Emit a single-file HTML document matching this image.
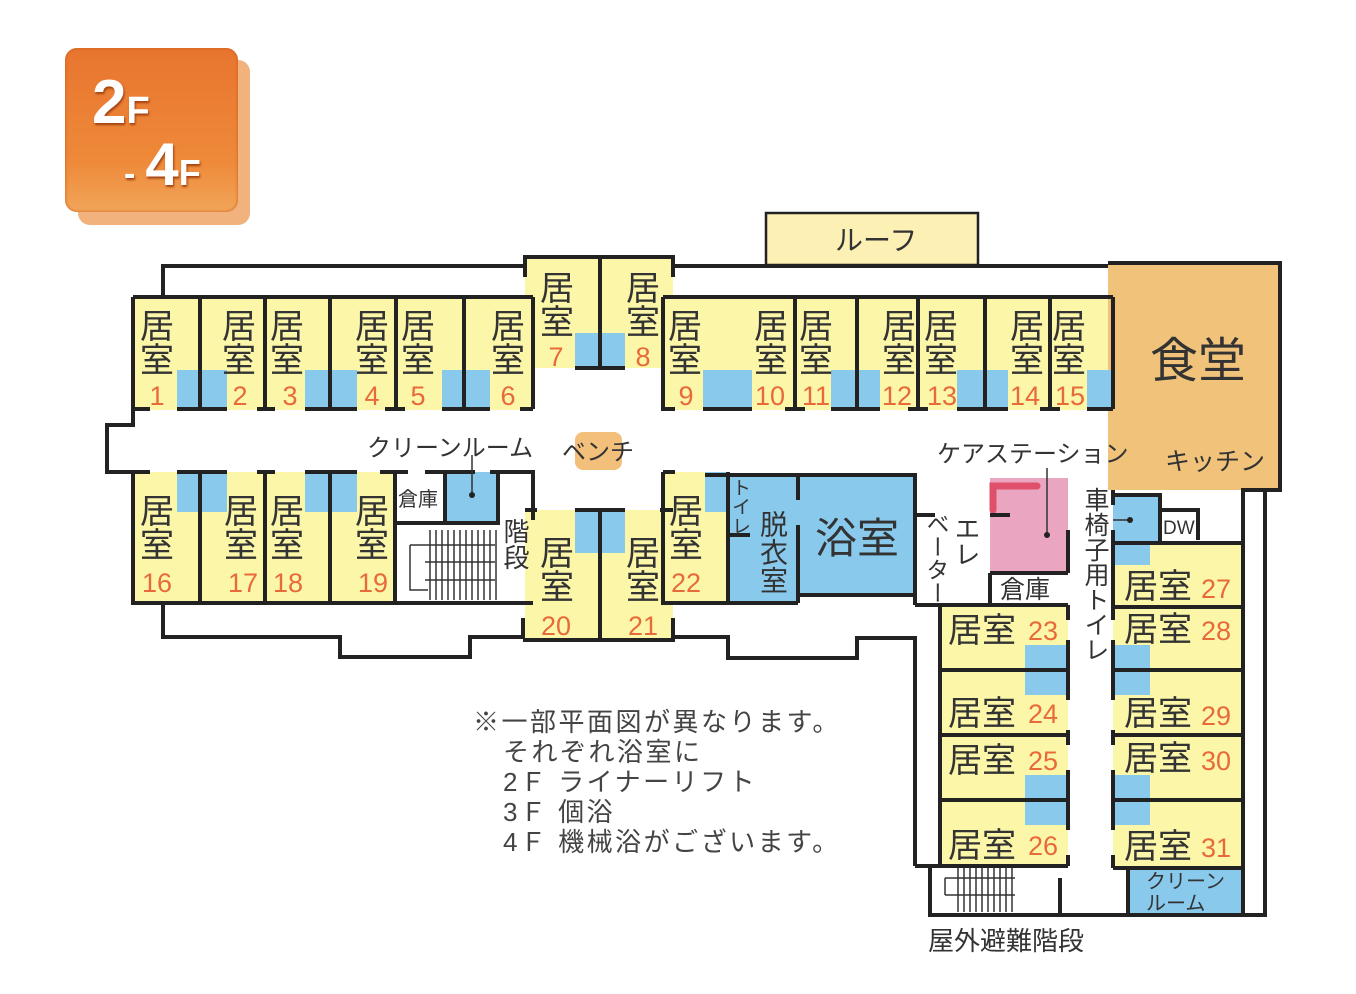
<!DOCTYPE html>
<html><head><meta charset="utf-8"><style>
html,body{margin:0;padding:0;background:#fff;width:1356px;height:994px;overflow:hidden}
body{position:relative;font-family:"Liberation Sans","Noto Sans CJK JP",sans-serif;color:#333}
.v{position:absolute;writing-mode:vertical-rl;line-height:1;color:#333;letter-spacing:0}
.badge{position:absolute;border-radius:12px}
</style></head><body>
<div class="badge" style="left:78px;top:60px;width:172px;height:165px;background:#eea566;opacity:.85"></div>
<div class="badge" style="left:65px;top:48px;width:173px;height:164px;background:linear-gradient(#e8752e,#ee8a3a 70%,#f2a55a);box-shadow:0 0 3px #c85a1a inset"></div>
<div style="position:absolute;left:92px;top:72px;color:#fff;font-weight:bold;font-size:62px;line-height:1;text-shadow:1px 2px 2px #a04010">2<span style="font-size:38px">F</span></div>
<div style="position:absolute;left:124px;top:135px;color:#fff;font-weight:bold;font-size:60px;line-height:1;text-shadow:1px 2px 2px #a04010"><span style="font-size:34px;margin-right:10px">-</span>4<span style="font-size:36px">F</span></div>

<svg width="1356" height="994" style="position:absolute;left:0;top:0" font-family="Liberation Sans, Noto Sans CJK JP, sans-serif">
<g fill="#fcf7a8">
<rect x="766" y="213" width="212" height="52" fill="#fcf0b4"/>
<rect x="133" y="297" width="400" height="113"/>
<rect x="525" y="257" width="148" height="111"/>
<rect x="663" y="297" width="450" height="113"/>
<rect x="133" y="472" width="262" height="131"/>
<rect x="525" y="510" width="148" height="130"/>
<rect x="663" y="472" width="65" height="131"/>
<rect x="940" y="605" width="128" height="261"/>
<rect x="1113" y="543" width="130" height="325"/>
</g>
<rect x="1108" y="263" width="172" height="227" fill="#f0c27a"/>
<rect x="990" y="478" width="78" height="95" fill="#eaa5c0"/>
<path d="M993 510 V486 H1037" stroke="#e0506a" stroke-width="7" fill="none" stroke-linecap="round"/>
<rect x="575" y="432" width="47" height="38" rx="8" fill="#f2c07a"/>
<g fill="#88c9ec">
<rect x="177" y="370" width="50" height="39"/><rect x="305" y="370" width="52" height="39"/><rect x="442" y="370" width="48" height="39"/>
<rect x="575" y="333" width="50" height="35"/>
<rect x="703" y="370" width="49" height="39"/><rect x="831" y="370" width="49" height="39"/><rect x="957" y="370" width="51" height="39"/><rect x="1087" y="370" width="26" height="39"/>
<rect x="177" y="472" width="50" height="40"/><rect x="305" y="472" width="52" height="40"/>
<rect x="445" y="472" width="53" height="51"/>
<rect x="575" y="512" width="50" height="41"/>
<rect x="705" y="472" width="23" height="40"/>
<rect x="728" y="475" width="70" height="128"/>
<rect x="798" y="475" width="117" height="118"/>
<rect x="1113" y="495" width="47" height="48"/>
<rect x="1113" y="543" width="37" height="22"/>
<rect x="1025" y="645" width="43" height="50"/><rect x="1025" y="775" width="43" height="50"/>
<rect x="1113" y="645" width="37" height="50"/><rect x="1113" y="775" width="37" height="50"/>
<rect x="1128" y="868" width="115" height="47"/>
</g>
<g stroke="#222" stroke-width="4" fill="none">
<rect x="766" y="213" width="212" height="52" stroke-width="2.5"/>
<path d="M163 297 V266 H525 M673 266 H1108"/>
<path d="M525 277 V257 H673 V277"/>
<path d="M133 297 H533 M663 297 H1113"/>
<path d="M133 297 V425 H107 V472 H133 V603 H533"/>
<path d="M163 603 V637 H340 V657 H470 V637 H523 V618 M523 640 H673 V618 M673 637 H728 V658 H857 V638 H915 V866"/>
<path d="M1108 263 H1280 V490 H1243 V915 M1265 490 V915 H930 V866 H1068"/>
<path d="M915 866 H930"/>
<path d="M200 297 V409 M265 297 V409 M330 297 V409 M396 297 V409 M464 297 V409 M533 297 V409 M533 409 H523"/>
<path d="M600 257 V368 M575 368 H625 M600 510 V640 M575 510 H625 M525 510 H537 M660 510 H673"/>
<path d="M133 409 H150 M177 409 H227 M257 409 H275 M305 409 H357 M385 409 H405 M442 409 H490 M520 409 H533"/>
<path d="M663 297 V409 H675 M703 409 H752 M795 297 V409 M785 409 H805 M857 297 V409 M831 409 H880 M918 297 V409 M908 409 H928 M985 297 V409 M957 409 H1008 M1050 297 V409 M1040 409 H1060 M1087 409 H1113 M1113 297 V409"/>
<path d="M200 472 V603 M265 472 V603 M330 472 V603 M395 472 V603 M133 472 H150 M177 472 H227 M257 472 H275 M305 472 H357 M380 472 H408 M425 472 H475 M490 472 H533 V520"/>
<path d="M395 523 H498 V472 M445 472 V523"/>
<path d="M663 472 H675 M663 472 V603 H798 M728 472 V603 M728 535 H750 M705 475 H800 M798 475 V500 M798 525 V603 M798 595 H915 M798 475 H915 V490 M915 490 V605 M915 515 H935 M940 605 V866 M915 605 H1068"/>
<path d="M990 573 V605 M990 573 H1068 M1068 530 V573 M990 515 H1010"/>
<path d="M940 670 H1068 M940 735 H1068 M940 800 H1068 M1068 605 V620 M1068 640 V700 M1068 730 V745 M1068 770 V830 M1068 855 V866"/>
<path d="M1113 543 H1243 M1113 607 H1243 M1113 670 H1243 M1113 735 H1243 M1113 800 H1243 M1113 868 H1243 M1113 490 V505 M1113 530 V620 M1113 640 V700 M1113 730 V745 M1113 770 V830 M1113 855 V868"/>
<path d="M1113 495 H1160 V543 M1160 510 H1198 V540"/>
<path d="M1128 868 V915 M1060 878 V915"/>
</g>
<g stroke="#333" stroke-width="1.5">
<path d="M430 530 V600 M436 530 V600 M442 530 V600 M448 530 V600 M454 530 V600 M460 530 V600 M466 530 V600 M472 530 V600 M478 530 V600 M484 530 V600 M490 530 V600 M496 530 V600"/>
<path d="M410 545 H495 M425 562 H495 M425 580 H495 M410 545 V590 H428" fill="none"/>
<path d="M958 868 V912 M964 868 V912 M970 868 V912 M976 868 V912 M982 868 V912 M988 868 V912 M994 868 V912 M1000 868 V912 M1006 868 V912 M1012 868 V912"/>
<path d="M945 878 H1015 M945 895 H1015 M945 878 V895" fill="none"/>
<path d="M472 455 V495 M1047 468 V535 M1113 520 H1130"/>
</g>
<circle cx="472" cy="495" r="3" fill="#222"/><circle cx="1047" cy="535" r="3" fill="#222"/><circle cx="1130" cy="520" r="3" fill="#222"/>

<g font-size="34" fill="#333">
<text x="140" y="338">居</text><text x="140" y="372">室</text>
<text x="222" y="338">居</text><text x="222" y="372">室</text>
<text x="270" y="338">居</text><text x="270" y="372">室</text>
<text x="355" y="338">居</text><text x="355" y="372">室</text>
<text x="401" y="338">居</text><text x="401" y="372">室</text>
<text x="491" y="338">居</text><text x="491" y="372">室</text>
<text x="540" y="300">居</text><text x="540" y="334">室</text>
<text x="626" y="300">居</text><text x="626" y="334">室</text>
<text x="668" y="338">居</text><text x="668" y="372">室</text>
<text x="754" y="338">居</text><text x="754" y="372">室</text>
<text x="799" y="338">居</text><text x="799" y="372">室</text>
<text x="882" y="338">居</text><text x="882" y="372">室</text>
<text x="924" y="338">居</text><text x="924" y="372">室</text>
<text x="1010" y="338">居</text><text x="1010" y="372">室</text>
<text x="1052" y="338">居</text><text x="1052" y="372">室</text>
<text x="140" y="523">居</text><text x="140" y="557">室</text>
<text x="224" y="523">居</text><text x="224" y="557">室</text>
<text x="270" y="523">居</text><text x="270" y="557">室</text>
<text x="355" y="523">居</text><text x="355" y="557">室</text>
<text x="540" y="565">居</text><text x="540" y="599">室</text>
<text x="626" y="565">居</text><text x="626" y="599">室</text>
<text x="669" y="523">居</text><text x="669" y="557">室</text>
<text x="948" y="642">居室</text><text x="948" y="725">居室</text><text x="948" y="772">居室</text><text x="948" y="857">居室</text>
<text x="1124" y="598">居室</text><text x="1124" y="641">居室</text><text x="1124" y="725">居室</text><text x="1124" y="770">居室</text><text x="1124" y="858">居室</text>
</g>
<g font-size="27" fill="#e8693a" text-anchor="middle">
<text x="157" y="405">1</text><text x="240" y="405">2</text><text x="290" y="405">3</text><text x="372" y="405">4</text><text x="418" y="405">5</text><text x="508" y="405">6</text>
<text x="556" y="366">7</text><text x="643" y="366">8</text>
<text x="686" y="405">9</text><text x="770" y="405">10</text><text x="816" y="405">11</text><text x="897" y="405">12</text><text x="942" y="405">13</text><text x="1025" y="405">14</text><text x="1070" y="405">15</text>
<text x="157" y="592">16</text><text x="243" y="592">17</text><text x="288" y="592">18</text><text x="373" y="592">19</text>
<text x="556" y="635">20</text><text x="643" y="635">21</text><text x="686" y="592">22</text>
<text x="1043" y="640">23</text><text x="1043" y="723">24</text><text x="1043" y="770">25</text><text x="1043" y="855">26</text>
<text x="1216" y="598">27</text><text x="1216" y="640">28</text><text x="1216" y="725">29</text><text x="1216" y="770">30</text><text x="1216" y="857">31</text>
</g>
<g fill="#333">
<text x="835" y="250" font-size="28">ルーフ</text>
<text x="1150" y="377" font-size="48">食堂</text>
<text x="1165" y="470" font-size="25">キッチン</text>
<text x="367" y="456" font-size="24">クリーンルーム</text>
<text x="562" y="460" font-size="24">ベンチ</text>
<text x="937" y="462" font-size="24">ケアステーション</text>
<text x="398" y="506" font-size="20">倉庫</text>
<text x="1000" y="598" font-size="25">倉庫</text>
<text x="815" y="553" font-size="42">浴室</text>
<text x="1163" y="534" font-size="19">DW</text>
<text x="1146" y="888" font-size="20">クリーン</text>
<text x="1146" y="910" font-size="20">ルーム</text>
<text x="928" y="950" font-size="26">屋外避難階段</text>
<g font-size="26" fill="#444" letter-spacing="2.5">
<text x="473" y="731">※一部平面図が異なります。</text>
<text x="503" y="761">それぞれ浴室に</text>
<text x="503" y="791">2Ｆ ライナーリフト</text>
<text x="503" y="821">3Ｆ 個浴</text>
<text x="503" y="851">4Ｆ 機械浴がございます。</text>
</g>
</g>
</svg>
<div class="v" style="left:502px;top:518px;font-size:26px">階段</div>
<div class="v" style="left:730px;top:478px;font-size:19px">トイレ</div>
<div class="v" style="left:758px;top:510px;font-size:28px">脱衣室</div>
<div class="v" style="left:953px;top:515px;font-size:26px">エレ</div>
<div class="v" style="left:924px;top:512px;font-size:23px">ベーター</div>
<div class="v" style="left:1082px;top:487px;font-size:25px">車椅子用トイレ</div>
</body></html>
